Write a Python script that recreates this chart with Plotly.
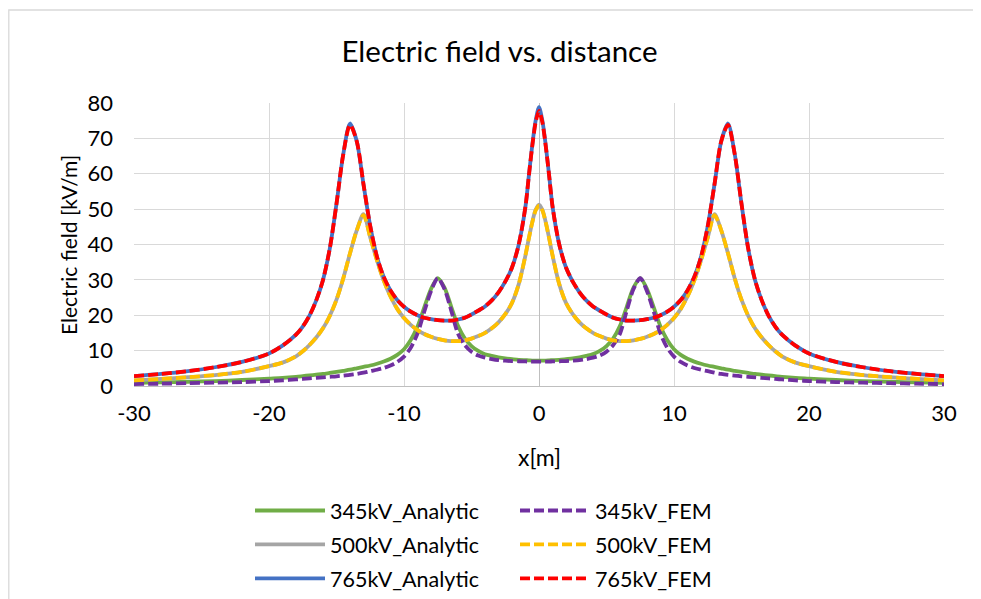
import plotly.graph_objects as go

# ---- data ----
x_m = [-30, -28, -26, -24, -22, -20, -19, -18, -17.5, -17, -16.5, -16, -15.5, -15, -14.5, -14,
       -13.5, -13, -12.5, -12, -11.5, -11, -10.5, -10, -9.5, -9, -8.5, -8, -7.5, -7, -6.5, -6,
       -5.5, -5, -4.5, -4, -3.5, -3, -2.5, -2, -1.5, -1, -0.75, -0.5, -0.25, 0,
       0.25, 0.5, 0.75, 1, 1.5, 2, 2.5, 3, 3.5, 4, 4.5, 5, 5.5, 6, 6.5, 7, 7.5, 8, 8.5, 9,
       9.5, 10, 10.5, 11, 11.5, 12, 12.5, 13, 13.5, 14, 14.5, 15, 15.5, 16, 16.5, 17, 17.5, 18,
       19, 20, 22, 24, 26, 28, 30]

kv345_analytic = [0.9, 1.0, 1.2, 1.4, 1.7, 2.1, 2.3, 2.6, 2.8, 3.0, 3.2, 3.4, 3.7, 4.0, 4.3, 4.6,
                  5.0, 5.4, 5.8, 6.3, 6.9, 7.7, 8.8, 10.4, 13.0, 16.8, 22.2, 27.4, 30.5, 27.8, 22.4, 17.0,
                  13.5, 11.3, 9.9, 9.0, 8.5, 8.1, 7.8, 7.6, 7.4, 7.3, 7.25, 7.2, 7.2, 7.2,
                  7.2, 7.2, 7.25, 7.3, 7.4, 7.6, 7.8, 8.1, 8.5, 9.0, 9.9, 11.3, 13.5, 17.0, 22.4, 27.8,
                  30.5, 27.4, 22.2, 16.8, 13.0, 10.4, 8.8, 7.7, 6.9, 6.3, 5.8, 5.4, 5.0, 4.6, 4.3, 4.0,
                  3.7, 3.4, 3.2, 3.0, 2.8, 2.6, 2.3, 2.1, 1.7, 1.4, 1.2, 1.0, 0.9]

kv345_fem = [0.55, 0.65, 0.8, 0.95, 1.1, 1.4, 1.6, 1.85, 2.0, 2.15, 2.3, 2.45, 2.6, 2.75, 2.95, 3.15,
             3.4, 3.75, 4.2, 4.6, 5.1, 5.8, 6.8, 8.3, 10.8, 14.8, 21.0, 26.8, 30.5, 27.4, 21.3, 14.8,
             11.6, 9.7, 8.6, 8.0, 7.6, 7.3, 7.15, 7.05, 7.0, 6.95, 6.9, 6.9, 6.9, 6.9,
             6.9, 6.9, 6.9, 6.95, 7.0, 7.05, 7.15, 7.3, 7.6, 8.0, 8.6, 9.7, 11.6, 14.8, 21.3, 27.4,
             30.5, 26.8, 21.0, 14.8, 10.8, 8.3, 6.8, 5.8, 5.1, 4.6, 4.2, 3.75, 3.4, 3.15, 2.95, 2.75,
             2.6, 2.45, 2.3, 2.15, 2.0, 1.85, 1.6, 1.4, 1.1, 0.95, 0.8, 0.65, 0.55]

kv500_analytic = [1.6, 2.0, 2.5, 3.1, 4.0, 5.6, 6.6, 8.4, 9.8, 11.6, 13.7, 16.3, 19.8, 24.4, 30.4, 37.5,
                  44.0, 48.6, 42.0, 35.5, 29.8, 25.3, 21.8, 19.2, 17.3, 15.8, 14.7, 13.9, 13.3, 12.9, 12.7, 12.7,
                  12.9, 13.4, 14.1, 15.0, 16.3, 18.0, 20.3, 23.5, 28.8, 37.0, 41.8, 46.3, 49.8, 51.3,
                  49.8, 46.3, 41.8, 37.0, 28.8, 23.5, 20.3, 18.0, 16.3, 15.0, 14.1, 13.4, 12.9, 12.7, 12.7, 12.9,
                  13.3, 13.9, 14.7, 15.8, 17.3, 19.2, 21.8, 25.3, 29.8, 35.5, 42.0, 48.6, 44.0, 37.5, 30.4, 24.4,
                  19.8, 16.3, 13.7, 11.6, 9.8, 8.4, 6.6, 5.6, 4.0, 3.1, 2.5, 2.0, 1.6]

kv500_fem = [1.6, 2.0, 2.5, 3.1, 4.0, 5.6, 6.6, 8.4, 9.8, 11.6, 13.7, 16.3, 19.8, 24.4, 30.4, 37.5,
             44.0, 48.3, 42.0, 35.5, 29.8, 25.3, 21.8, 19.2, 17.3, 15.8, 14.7, 13.9, 13.3, 12.9, 12.7, 12.7,
             12.9, 13.4, 14.1, 15.0, 16.3, 18.0, 20.3, 23.5, 28.8, 37.0, 41.8, 46.2, 49.6, 51.0,
             49.6, 46.2, 41.8, 37.0, 28.8, 23.5, 20.3, 18.0, 16.3, 15.0, 14.1, 13.4, 12.9, 12.7, 12.7, 12.9,
             13.3, 13.9, 14.7, 15.8, 17.3, 19.2, 21.8, 25.3, 29.8, 35.5, 42.0, 48.3, 44.0, 37.5, 30.4, 24.4,
             19.8, 16.3, 13.7, 11.6, 9.8, 8.4, 6.6, 5.6, 4.0, 3.1, 2.5, 2.0, 1.6]

kv765_analytic = [2.8, 3.4, 4.2, 5.3, 6.8, 9.2, 11.4, 14.5, 16.8, 19.9, 24.2, 30.0, 38.8, 51.5, 65.5, 74.2,
                  69.2, 57.0, 45.2, 36.5, 30.8, 27.0, 24.3, 22.4, 21.0, 20.0, 19.3, 18.9, 18.6, 18.5, 18.5, 18.8,
                  19.3, 20.2, 21.3, 22.5, 24.2, 26.5, 29.5, 33.5, 40.0, 50.8, 59.5, 68.0, 75.0, 78.8,
                  75.0, 68.0, 59.5, 50.8, 40.0, 33.5, 29.5, 26.5, 24.2, 22.5, 21.3, 20.2, 19.3, 18.8, 18.5, 18.5,
                  18.6, 18.9, 19.3, 20.0, 21.0, 22.4, 24.3, 27.0, 30.8, 36.5, 45.2, 57.0, 69.2, 74.2, 65.5, 51.5,
                  38.8, 30.0, 24.2, 19.9, 16.8, 14.5, 11.4, 9.2, 6.8, 5.3, 4.2, 3.4, 2.8]

kv765_fem = [2.8, 3.4, 4.2, 5.3, 6.8, 9.2, 11.4, 14.5, 16.8, 19.9, 24.2, 30.0, 38.8, 51.5, 65.5, 73.8,
             69.2, 57.0, 45.2, 36.5, 30.8, 27.0, 24.3, 22.4, 21.0, 20.0, 19.3, 18.9, 18.6, 18.5, 18.5, 18.8,
             19.3, 20.2, 21.3, 22.5, 24.2, 26.5, 29.5, 33.5, 40.0, 50.8, 59.5, 67.8, 74.5, 77.8,
             74.5, 67.8, 59.5, 50.8, 40.0, 33.5, 29.5, 26.5, 24.2, 22.5, 21.3, 20.2, 19.3, 18.8, 18.5, 18.5,
             18.6, 18.9, 19.3, 20.0, 21.0, 22.4, 24.3, 27.0, 30.8, 36.5, 45.2, 57.0, 69.2, 73.8, 65.5, 51.5,
             38.8, 30.0, 24.2, 19.9, 16.8, 14.5, 11.4, 9.2, 6.8, 5.3, 4.2, 3.4, 2.8]

x_ticks = [-30, -20, -10, 0, 10, 20, 30]
y_ticks = [0, 10, 20, 30, 40, 50, 60, 70, 80]

FONT = "Lato"
GRID = "#d9d9d9"
DASH = "10px,4px"

series = [
    ("345kV_Analytic", kv345_analytic, "#70AD47", "solid", "legend"),
    ("500kV_Analytic", kv500_analytic, "#A5A5A5", "solid", "legend"),
    ("765kV_Analytic", kv765_analytic, "#4472C4", "solid", "legend"),
    ("345kV_FEM", kv345_fem, "#7030A0", DASH, "legend2"),
    ("500kV_FEM", kv500_fem, "#FFC000", DASH, "legend2"),
    ("765kV_FEM", kv765_fem, "#FF0000", DASH, "legend2"),
]

fig = go.Figure()
for name, ys, color, dash, leg in series:
    fig.add_trace(go.Scatter(
        x=x_m, y=ys, name=name, mode="lines", legend=leg, legendgroup=name,
        line=dict(color=color, width=3.8, dash=dash, shape="spline", smoothing=0.8),
    ))

# positions are page pixels minus the page's 8px body margin
FIG_W, FIG_H = 981, 599
L, R, T, B = 126, 936, 95, 378
W, H = R - L, B - T


def px_x(v):
    return (v - L) / W


def px_y(v):
    return (B - v) / H


legend_common = dict(orientation="v", xanchor="left", yanchor="top", y=px_y(482),
                     font=dict(family=FONT, size=21.5, color="#000000"), itemwidth=70,
                     bgcolor="rgba(0,0,0,0)", traceorder="grouped", tracegroupgap=3)

fig.update_layout(
    width=FIG_W, height=FIG_H,
    margin=dict(l=L, r=FIG_W - R, t=T, b=FIG_H - B, autoexpand=False),
    paper_bgcolor="white", plot_bgcolor="white",
    font=dict(family=FONT, color="#000000", size=21),
    title=dict(text="Electric field vs. distance", x=491.5 / FIG_W, xref="container", xanchor="center",
               y=1 - 44 / FIG_H, yref="container", yanchor="middle",
               font=dict(family=FONT, size=29.5, color="#000000")),
    legend=dict(x=px_x(242), **legend_common),
    legend2=dict(x=px_x(507), **legend_common),
    showlegend=True,
)

fig.update_xaxes(range=[-30, 30], tickvals=x_ticks, ticktext=[str(v) for v in x_ticks],
                 showgrid=True, gridcolor=GRID, gridwidth=1.3,
                 zeroline=True, zerolinecolor="#bfbfbf", zerolinewidth=1.3,
                 showline=False, ticks="", ticklabelstandoff=12,
                 tickfont=dict(family=FONT, size=22, color="#000000"))
fig.update_yaxes(range=[0, 80], tickvals=y_ticks, ticktext=[str(v) for v in y_ticks],
                 showgrid=True, gridcolor=GRID, gridwidth=1.3,
                 zeroline=True, zerolinecolor="#bfbfbf", zerolinewidth=1.3,
                 showline=False, ticks="", ticklabelstandoff=20,
                 tickfont=dict(family=FONT, size=22, color="#000000"))

# axis titles
fig.add_annotation(text="x[m]", x=0.5, xref="paper", y=px_y(449), yref="paper",
                   showarrow=False, xanchor="center", yanchor="middle",
                   font=dict(family=FONT, size=23, color="#000000"))
fig.add_annotation(text="Electric field [kV/m]", x=px_x(60), xref="paper",
                   y=px_y(237), yref="paper", textangle=-90,
                   showarrow=False, xanchor="center", yanchor="middle",
                   font=dict(family=FONT, size=21, color="#000000"))

# chart-area border
fig.add_shape(type="rect", xref="paper", yref="paper",
              x0=px_x(0.8), x1=px_x(1000), y0=px_y(620), y1=px_y(2),
              line=dict(color="#d9d9d9", width=1.3), fillcolor="rgba(0,0,0,0)", layer="below")

fig.write_html("out.html")
